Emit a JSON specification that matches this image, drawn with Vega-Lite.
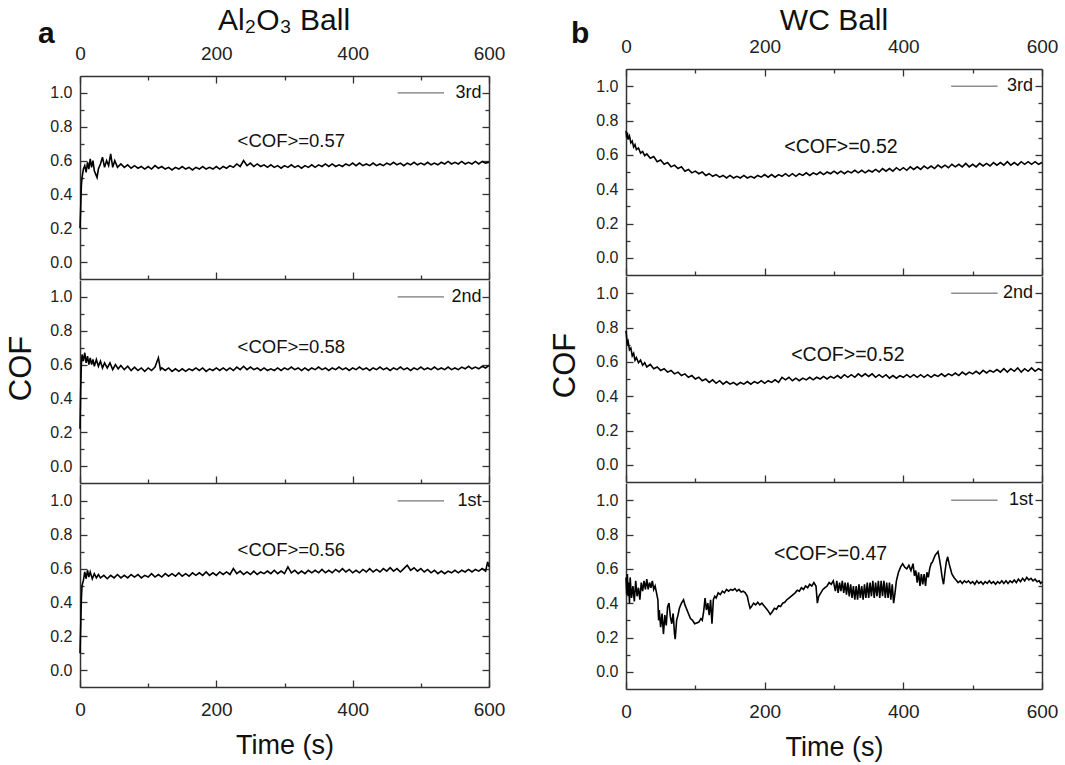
{
"$schema":"https://vega.github.io/schema/vega-lite/v6.json",
"background":"white",
"datasets":{
"cof":[
{"s":"a3","t":0,"c":0.20},{"s":"a3","t":1,"c":0.32},{"s":"a3","t":2,"c":0.45},{"s":"a3","t":3,"c":0.50},{"s":"a3","t":5,"c":0.55},{"s":"a3","t":7,"c":0.57},{"s":"a3","t":9,"c":0.53},{"s":"a3","t":11,"c":0.59},{"s":"a3","t":13,"c":0.55},{"s":"a3","t":15,"c":0.61},{"s":"a3","t":17,"c":0.56},{"s":"a3","t":19,"c":0.60},{"s":"a3","t":21,"c":0.54},{"s":"a3","t":23,"c":0.52},{"s":"a3","t":25,"c":0.50},{"s":"a3","t":27,"c":0.55},{"s":"a3","t":30,"c":0.58},{"s":"a3","t":33,"c":0.62},{"s":"a3","t":36,"c":0.56},{"s":"a3","t":39,"c":0.60},{"s":"a3","t":42,"c":0.57},{"s":"a3","t":45,"c":0.64},{"s":"a3","t":48,"c":0.56},{"s":"a3","t":51,"c":0.60},{"s":"a3","t":55,"c":0.56},{"s":"a3","t":60,"c":0.58},{"s":"a3","t":65,"c":0.56},{"s":"a3","t":70,"c":0.575},{"s":"a3","t":75,"c":0.555},{"s":"a3","t":80,"c":0.57},{"s":"a3","t":85,"c":0.555},{"s":"a3","t":90,"c":0.565},{"s":"a3","t":95,"c":0.55},{"s":"a3","t":100,"c":0.565},{"s":"a3","t":105,"c":0.55},{"s":"a3","t":110,"c":0.57},{"s":"a3","t":115,"c":0.555},{"s":"a3","t":120,"c":0.565},{"s":"a3","t":125,"c":0.55},{"s":"a3","t":130,"c":0.56},{"s":"a3","t":135,"c":0.545},{"s":"a3","t":140,"c":0.56},{"s":"a3","t":145,"c":0.55},{"s":"a3","t":150,"c":0.565},{"s":"a3","t":155,"c":0.55},{"s":"a3","t":160,"c":0.56},{"s":"a3","t":165,"c":0.545},{"s":"a3","t":170,"c":0.56},{"s":"a3","t":175,"c":0.55},{"s":"a3","t":180,"c":0.565},{"s":"a3","t":185,"c":0.55},{"s":"a3","t":190,"c":0.56},{"s":"a3","t":195,"c":0.55},{"s":"a3","t":200,"c":0.565},{"s":"a3","t":205,"c":0.55},{"s":"a3","t":210,"c":0.565},{"s":"a3","t":215,"c":0.555},{"s":"a3","t":220,"c":0.57},{"s":"a3","t":225,"c":0.56},{"s":"a3","t":230,"c":0.58},{"s":"a3","t":235,"c":0.565},{"s":"a3","t":240,"c":0.60},{"s":"a3","t":245,"c":0.57},{"s":"a3","t":250,"c":0.585},{"s":"a3","t":255,"c":0.565},{"s":"a3","t":260,"c":0.58},{"s":"a3","t":265,"c":0.565},{"s":"a3","t":270,"c":0.575},{"s":"a3","t":275,"c":0.56},{"s":"a3","t":280,"c":0.575},{"s":"a3","t":285,"c":0.56},{"s":"a3","t":290,"c":0.57},{"s":"a3","t":295,"c":0.555},{"s":"a3","t":300,"c":0.57},{"s":"a3","t":305,"c":0.56},{"s":"a3","t":310,"c":0.575},{"s":"a3","t":315,"c":0.56},{"s":"a3","t":320,"c":0.57},{"s":"a3","t":325,"c":0.555},{"s":"a3","t":330,"c":0.57},{"s":"a3","t":335,"c":0.56},{"s":"a3","t":340,"c":0.575},{"s":"a3","t":345,"c":0.56},{"s":"a3","t":350,"c":0.575},{"s":"a3","t":355,"c":0.565},{"s":"a3","t":360,"c":0.58},{"s":"a3","t":365,"c":0.565},{"s":"a3","t":370,"c":0.58},{"s":"a3","t":375,"c":0.565},{"s":"a3","t":380,"c":0.575},{"s":"a3","t":385,"c":0.565},{"s":"a3","t":390,"c":0.58},{"s":"a3","t":395,"c":0.57},{"s":"a3","t":400,"c":0.585},{"s":"a3","t":405,"c":0.57},{"s":"a3","t":410,"c":0.585},{"s":"a3","t":415,"c":0.57},{"s":"a3","t":420,"c":0.58},{"s":"a3","t":425,"c":0.57},{"s":"a3","t":430,"c":0.585},{"s":"a3","t":435,"c":0.57},{"s":"a3","t":440,"c":0.58},{"s":"a3","t":445,"c":0.57},{"s":"a3","t":450,"c":0.585},{"s":"a3","t":455,"c":0.575},{"s":"a3","t":460,"c":0.59},{"s":"a3","t":465,"c":0.575},{"s":"a3","t":470,"c":0.585},{"s":"a3","t":475,"c":0.57},{"s":"a3","t":480,"c":0.585},{"s":"a3","t":485,"c":0.575},{"s":"a3","t":490,"c":0.59},{"s":"a3","t":495,"c":0.575},{"s":"a3","t":500,"c":0.585},{"s":"a3","t":505,"c":0.575},{"s":"a3","t":510,"c":0.59},{"s":"a3","t":515,"c":0.575},{"s":"a3","t":520,"c":0.585},{"s":"a3","t":525,"c":0.575},{"s":"a3","t":530,"c":0.59},{"s":"a3","t":535,"c":0.58},{"s":"a3","t":540,"c":0.595},{"s":"a3","t":545,"c":0.58},{"s":"a3","t":550,"c":0.59},{"s":"a3","t":555,"c":0.58},{"s":"a3","t":560,"c":0.595},{"s":"a3","t":565,"c":0.58},{"s":"a3","t":570,"c":0.59},{"s":"a3","t":575,"c":0.58},{"s":"a3","t":580,"c":0.595},{"s":"a3","t":585,"c":0.58},{"s":"a3","t":590,"c":0.595},{"s":"a3","t":595,"c":0.585},{"s":"a3","t":600,"c":0.59},
{"s":"a2","t":0,"c":0.22},{"s":"a2","t":1,"c":0.45},{"s":"a2","t":2,"c":0.60},{"s":"a2","t":3,"c":0.66},{"s":"a2","t":5,"c":0.62},{"s":"a2","t":7,"c":0.67},{"s":"a2","t":9,"c":0.61},{"s":"a2","t":11,"c":0.65},{"s":"a2","t":13,"c":0.60},{"s":"a2","t":15,"c":0.64},{"s":"a2","t":17,"c":0.60},{"s":"a2","t":19,"c":0.63},{"s":"a2","t":21,"c":0.59},{"s":"a2","t":24,"c":0.63},{"s":"a2","t":27,"c":0.59},{"s":"a2","t":30,"c":0.62},{"s":"a2","t":33,"c":0.58},{"s":"a2","t":36,"c":0.61},{"s":"a2","t":40,"c":0.58},{"s":"a2","t":44,"c":0.61},{"s":"a2","t":48,"c":0.57},{"s":"a2","t":52,"c":0.60},{"s":"a2","t":56,"c":0.575},{"s":"a2","t":60,"c":0.595},{"s":"a2","t":65,"c":0.57},{"s":"a2","t":70,"c":0.59},{"s":"a2","t":75,"c":0.565},{"s":"a2","t":80,"c":0.585},{"s":"a2","t":85,"c":0.565},{"s":"a2","t":90,"c":0.58},{"s":"a2","t":95,"c":0.56},{"s":"a2","t":100,"c":0.58},{"s":"a2","t":105,"c":0.565},{"s":"a2","t":110,"c":0.585},{"s":"a2","t":115,"c":0.64},{"s":"a2","t":118,"c":0.57},{"s":"a2","t":120,"c":0.58},{"s":"a2","t":125,"c":0.565},{"s":"a2","t":130,"c":0.58},{"s":"a2","t":135,"c":0.56},{"s":"a2","t":140,"c":0.575},{"s":"a2","t":145,"c":0.56},{"s":"a2","t":150,"c":0.575},{"s":"a2","t":155,"c":0.56},{"s":"a2","t":160,"c":0.575},{"s":"a2","t":165,"c":0.565},{"s":"a2","t":170,"c":0.58},{"s":"a2","t":175,"c":0.565},{"s":"a2","t":180,"c":0.58},{"s":"a2","t":185,"c":0.56},{"s":"a2","t":190,"c":0.575},{"s":"a2","t":195,"c":0.565},{"s":"a2","t":200,"c":0.58},{"s":"a2","t":205,"c":0.565},{"s":"a2","t":210,"c":0.58},{"s":"a2","t":215,"c":0.565},{"s":"a2","t":220,"c":0.58},{"s":"a2","t":225,"c":0.565},{"s":"a2","t":230,"c":0.585},{"s":"a2","t":235,"c":0.57},{"s":"a2","t":240,"c":0.59},{"s":"a2","t":245,"c":0.57},{"s":"a2","t":250,"c":0.585},{"s":"a2","t":255,"c":0.57},{"s":"a2","t":260,"c":0.58},{"s":"a2","t":265,"c":0.565},{"s":"a2","t":270,"c":0.58},{"s":"a2","t":275,"c":0.565},{"s":"a2","t":280,"c":0.575},{"s":"a2","t":285,"c":0.565},{"s":"a2","t":290,"c":0.58},{"s":"a2","t":295,"c":0.565},{"s":"a2","t":300,"c":0.58},{"s":"a2","t":305,"c":0.57},{"s":"a2","t":310,"c":0.585},{"s":"a2","t":315,"c":0.57},{"s":"a2","t":320,"c":0.58},{"s":"a2","t":325,"c":0.565},{"s":"a2","t":330,"c":0.58},{"s":"a2","t":335,"c":0.565},{"s":"a2","t":340,"c":0.58},{"s":"a2","t":345,"c":0.57},{"s":"a2","t":350,"c":0.585},{"s":"a2","t":355,"c":0.57},{"s":"a2","t":360,"c":0.58},{"s":"a2","t":365,"c":0.565},{"s":"a2","t":370,"c":0.58},{"s":"a2","t":375,"c":0.57},{"s":"a2","t":380,"c":0.585},{"s":"a2","t":385,"c":0.57},{"s":"a2","t":390,"c":0.58},{"s":"a2","t":395,"c":0.565},{"s":"a2","t":400,"c":0.58},{"s":"a2","t":405,"c":0.57},{"s":"a2","t":410,"c":0.585},{"s":"a2","t":415,"c":0.57},{"s":"a2","t":420,"c":0.58},{"s":"a2","t":425,"c":0.565},{"s":"a2","t":430,"c":0.58},{"s":"a2","t":435,"c":0.57},{"s":"a2","t":440,"c":0.585},{"s":"a2","t":445,"c":0.57},{"s":"a2","t":450,"c":0.58},{"s":"a2","t":455,"c":0.565},{"s":"a2","t":460,"c":0.58},{"s":"a2","t":465,"c":0.57},{"s":"a2","t":470,"c":0.585},{"s":"a2","t":475,"c":0.57},{"s":"a2","t":480,"c":0.58},{"s":"a2","t":485,"c":0.565},{"s":"a2","t":490,"c":0.58},{"s":"a2","t":495,"c":0.57},{"s":"a2","t":500,"c":0.585},{"s":"a2","t":505,"c":0.57},{"s":"a2","t":510,"c":0.58},{"s":"a2","t":515,"c":0.57},{"s":"a2","t":520,"c":0.585},{"s":"a2","t":525,"c":0.57},{"s":"a2","t":530,"c":0.58},{"s":"a2","t":535,"c":0.57},{"s":"a2","t":540,"c":0.585},{"s":"a2","t":545,"c":0.57},{"s":"a2","t":550,"c":0.58},{"s":"a2","t":555,"c":0.57},{"s":"a2","t":560,"c":0.585},{"s":"a2","t":565,"c":0.575},{"s":"a2","t":570,"c":0.59},{"s":"a2","t":575,"c":0.575},{"s":"a2","t":580,"c":0.585},{"s":"a2","t":585,"c":0.575},{"s":"a2","t":590,"c":0.59},{"s":"a2","t":595,"c":0.58},{"s":"a2","t":600,"c":0.595},
{"s":"a1","t":0,"c":0.10},{"s":"a1","t":1,"c":0.25},{"s":"a1","t":2,"c":0.42},{"s":"a1","t":3,"c":0.50},{"s":"a1","t":5,"c":0.53},{"s":"a1","t":7,"c":0.58},{"s":"a1","t":9,"c":0.54},{"s":"a1","t":11,"c":0.59},{"s":"a1","t":13,"c":0.55},{"s":"a1","t":15,"c":0.58},{"s":"a1","t":18,"c":0.54},{"s":"a1","t":21,"c":0.57},{"s":"a1","t":24,"c":0.545},{"s":"a1","t":27,"c":0.565},{"s":"a1","t":30,"c":0.545},{"s":"a1","t":35,"c":0.56},{"s":"a1","t":40,"c":0.54},{"s":"a1","t":45,"c":0.56},{"s":"a1","t":50,"c":0.545},{"s":"a1","t":55,"c":0.565},{"s":"a1","t":60,"c":0.545},{"s":"a1","t":65,"c":0.56},{"s":"a1","t":70,"c":0.545},{"s":"a1","t":75,"c":0.565},{"s":"a1","t":80,"c":0.55},{"s":"a1","t":85,"c":0.565},{"s":"a1","t":90,"c":0.545},{"s":"a1","t":95,"c":0.56},{"s":"a1","t":100,"c":0.55},{"s":"a1","t":105,"c":0.57},{"s":"a1","t":110,"c":0.55},{"s":"a1","t":115,"c":0.565},{"s":"a1","t":120,"c":0.55},{"s":"a1","t":125,"c":0.57},{"s":"a1","t":130,"c":0.555},{"s":"a1","t":135,"c":0.57},{"s":"a1","t":140,"c":0.555},{"s":"a1","t":145,"c":0.575},{"s":"a1","t":150,"c":0.555},{"s":"a1","t":155,"c":0.57},{"s":"a1","t":160,"c":0.555},{"s":"a1","t":165,"c":0.575},{"s":"a1","t":170,"c":0.56},{"s":"a1","t":175,"c":0.575},{"s":"a1","t":180,"c":0.56},{"s":"a1","t":185,"c":0.58},{"s":"a1","t":190,"c":0.56},{"s":"a1","t":195,"c":0.575},{"s":"a1","t":200,"c":0.56},{"s":"a1","t":205,"c":0.58},{"s":"a1","t":210,"c":0.565},{"s":"a1","t":215,"c":0.58},{"s":"a1","t":220,"c":0.565},{"s":"a1","t":225,"c":0.60},{"s":"a1","t":230,"c":0.57},{"s":"a1","t":235,"c":0.585},{"s":"a1","t":240,"c":0.565},{"s":"a1","t":245,"c":0.58},{"s":"a1","t":250,"c":0.565},{"s":"a1","t":255,"c":0.585},{"s":"a1","t":260,"c":0.565},{"s":"a1","t":265,"c":0.58},{"s":"a1","t":270,"c":0.57},{"s":"a1","t":275,"c":0.585},{"s":"a1","t":280,"c":0.57},{"s":"a1","t":285,"c":0.59},{"s":"a1","t":290,"c":0.57},{"s":"a1","t":295,"c":0.585},{"s":"a1","t":300,"c":0.57},{"s":"a1","t":305,"c":0.61},{"s":"a1","t":310,"c":0.575},{"s":"a1","t":315,"c":0.59},{"s":"a1","t":320,"c":0.57},{"s":"a1","t":325,"c":0.585},{"s":"a1","t":330,"c":0.57},{"s":"a1","t":335,"c":0.59},{"s":"a1","t":340,"c":0.575},{"s":"a1","t":345,"c":0.59},{"s":"a1","t":350,"c":0.575},{"s":"a1","t":355,"c":0.595},{"s":"a1","t":360,"c":0.575},{"s":"a1","t":365,"c":0.59},{"s":"a1","t":370,"c":0.575},{"s":"a1","t":375,"c":0.595},{"s":"a1","t":380,"c":0.58},{"s":"a1","t":385,"c":0.60},{"s":"a1","t":390,"c":0.58},{"s":"a1","t":395,"c":0.595},{"s":"a1","t":400,"c":0.575},{"s":"a1","t":405,"c":0.59},{"s":"a1","t":410,"c":0.575},{"s":"a1","t":415,"c":0.595},{"s":"a1","t":420,"c":0.58},{"s":"a1","t":425,"c":0.60},{"s":"a1","t":430,"c":0.58},{"s":"a1","t":435,"c":0.595},{"s":"a1","t":440,"c":0.58},{"s":"a1","t":445,"c":0.60},{"s":"a1","t":450,"c":0.585},{"s":"a1","t":455,"c":0.605},{"s":"a1","t":460,"c":0.585},{"s":"a1","t":465,"c":0.60},{"s":"a1","t":470,"c":0.58},{"s":"a1","t":475,"c":0.60},{"s":"a1","t":480,"c":0.62},{"s":"a1","t":485,"c":0.59},{"s":"a1","t":490,"c":0.605},{"s":"a1","t":495,"c":0.585},{"s":"a1","t":500,"c":0.60},{"s":"a1","t":505,"c":0.58},{"s":"a1","t":510,"c":0.595},{"s":"a1","t":515,"c":0.575},{"s":"a1","t":520,"c":0.59},{"s":"a1","t":525,"c":0.57},{"s":"a1","t":530,"c":0.585},{"s":"a1","t":535,"c":0.57},{"s":"a1","t":540,"c":0.585},{"s":"a1","t":545,"c":0.575},{"s":"a1","t":550,"c":0.59},{"s":"a1","t":555,"c":0.575},{"s":"a1","t":560,"c":0.59},{"s":"a1","t":565,"c":0.58},{"s":"a1","t":570,"c":0.595},{"s":"a1","t":575,"c":0.58},{"s":"a1","t":580,"c":0.595},{"s":"a1","t":585,"c":0.585},{"s":"a1","t":590,"c":0.60},{"s":"a1","t":595,"c":0.585},{"s":"a1","t":598,"c":0.64},{"s":"a1","t":600,"c":0.61},
{"s":"b3","t":0,"c":0.74},{"s":"b3","t":1,"c":0.70},{"s":"b3","t":2,"c":0.73},{"s":"b3","t":3,"c":0.69},{"s":"b3","t":5,"c":0.71},{"s":"b3","t":7,"c":0.67},{"s":"b3","t":9,"c":0.68},{"s":"b3","t":11,"c":0.645},{"s":"b3","t":13,"c":0.66},{"s":"b3","t":15,"c":0.63},{"s":"b3","t":18,"c":0.64},{"s":"b3","t":21,"c":0.61},{"s":"b3","t":24,"c":0.62},{"s":"b3","t":27,"c":0.595},{"s":"b3","t":30,"c":0.605},{"s":"b3","t":35,"c":0.58},{"s":"b3","t":40,"c":0.59},{"s":"b3","t":45,"c":0.56},{"s":"b3","t":50,"c":0.57},{"s":"b3","t":55,"c":0.545},{"s":"b3","t":60,"c":0.555},{"s":"b3","t":65,"c":0.53},{"s":"b3","t":70,"c":0.54},{"s":"b3","t":75,"c":0.52},{"s":"b3","t":80,"c":0.53},{"s":"b3","t":85,"c":0.505},{"s":"b3","t":90,"c":0.515},{"s":"b3","t":95,"c":0.495},{"s":"b3","t":100,"c":0.505},{"s":"b3","t":105,"c":0.49},{"s":"b3","t":110,"c":0.50},{"s":"b3","t":115,"c":0.48},{"s":"b3","t":120,"c":0.49},{"s":"b3","t":125,"c":0.475},{"s":"b3","t":130,"c":0.485},{"s":"b3","t":135,"c":0.47},{"s":"b3","t":140,"c":0.48},{"s":"b3","t":145,"c":0.465},{"s":"b3","t":150,"c":0.48},{"s":"b3","t":155,"c":0.465},{"s":"b3","t":160,"c":0.475},{"s":"b3","t":165,"c":0.465},{"s":"b3","t":170,"c":0.48},{"s":"b3","t":175,"c":0.465},{"s":"b3","t":180,"c":0.475},{"s":"b3","t":185,"c":0.465},{"s":"b3","t":190,"c":0.48},{"s":"b3","t":195,"c":0.47},{"s":"b3","t":200,"c":0.485},{"s":"b3","t":205,"c":0.47},{"s":"b3","t":210,"c":0.485},{"s":"b3","t":215,"c":0.47},{"s":"b3","t":220,"c":0.485},{"s":"b3","t":225,"c":0.475},{"s":"b3","t":230,"c":0.49},{"s":"b3","t":235,"c":0.475},{"s":"b3","t":240,"c":0.49},{"s":"b3","t":245,"c":0.475},{"s":"b3","t":250,"c":0.49},{"s":"b3","t":255,"c":0.48},{"s":"b3","t":260,"c":0.495},{"s":"b3","t":265,"c":0.48},{"s":"b3","t":270,"c":0.495},{"s":"b3","t":275,"c":0.485},{"s":"b3","t":280,"c":0.50},{"s":"b3","t":285,"c":0.485},{"s":"b3","t":290,"c":0.50},{"s":"b3","t":295,"c":0.49},{"s":"b3","t":300,"c":0.505},{"s":"b3","t":305,"c":0.49},{"s":"b3","t":310,"c":0.505},{"s":"b3","t":315,"c":0.49},{"s":"b3","t":320,"c":0.505},{"s":"b3","t":325,"c":0.495},{"s":"b3","t":330,"c":0.51},{"s":"b3","t":335,"c":0.495},{"s":"b3","t":340,"c":0.51},{"s":"b3","t":345,"c":0.495},{"s":"b3","t":350,"c":0.51},{"s":"b3","t":355,"c":0.50},{"s":"b3","t":360,"c":0.515},{"s":"b3","t":365,"c":0.50},{"s":"b3","t":370,"c":0.52},{"s":"b3","t":375,"c":0.505},{"s":"b3","t":380,"c":0.52},{"s":"b3","t":385,"c":0.505},{"s":"b3","t":390,"c":0.525},{"s":"b3","t":395,"c":0.51},{"s":"b3","t":400,"c":0.525},{"s":"b3","t":405,"c":0.51},{"s":"b3","t":410,"c":0.53},{"s":"b3","t":415,"c":0.515},{"s":"b3","t":420,"c":0.53},{"s":"b3","t":425,"c":0.515},{"s":"b3","t":430,"c":0.535},{"s":"b3","t":435,"c":0.52},{"s":"b3","t":440,"c":0.535},{"s":"b3","t":445,"c":0.52},{"s":"b3","t":450,"c":0.54},{"s":"b3","t":455,"c":0.525},{"s":"b3","t":460,"c":0.54},{"s":"b3","t":465,"c":0.525},{"s":"b3","t":470,"c":0.545},{"s":"b3","t":475,"c":0.53},{"s":"b3","t":480,"c":0.545},{"s":"b3","t":485,"c":0.53},{"s":"b3","t":490,"c":0.55},{"s":"b3","t":495,"c":0.53},{"s":"b3","t":500,"c":0.545},{"s":"b3","t":505,"c":0.53},{"s":"b3","t":510,"c":0.55},{"s":"b3","t":515,"c":0.535},{"s":"b3","t":520,"c":0.55},{"s":"b3","t":525,"c":0.535},{"s":"b3","t":530,"c":0.555},{"s":"b3","t":535,"c":0.54},{"s":"b3","t":540,"c":0.555},{"s":"b3","t":545,"c":0.54},{"s":"b3","t":550,"c":0.56},{"s":"b3","t":555,"c":0.54},{"s":"b3","t":560,"c":0.555},{"s":"b3","t":565,"c":0.54},{"s":"b3","t":570,"c":0.56},{"s":"b3","t":575,"c":0.545},{"s":"b3","t":580,"c":0.56},{"s":"b3","t":585,"c":0.545},{"s":"b3","t":590,"c":0.56},{"s":"b3","t":595,"c":0.545},{"s":"b3","t":600,"c":0.555},
{"s":"b2","t":0,"c":0.78},{"s":"b2","t":1,"c":0.74},{"s":"b2","t":2,"c":0.71},{"s":"b2","t":3,"c":0.72},{"s":"b2","t":5,"c":0.67},{"s":"b2","t":7,"c":0.68},{"s":"b2","t":9,"c":0.635},{"s":"b2","t":11,"c":0.65},{"s":"b2","t":13,"c":0.61},{"s":"b2","t":15,"c":0.625},{"s":"b2","t":18,"c":0.595},{"s":"b2","t":21,"c":0.61},{"s":"b2","t":24,"c":0.58},{"s":"b2","t":27,"c":0.595},{"s":"b2","t":30,"c":0.57},{"s":"b2","t":35,"c":0.585},{"s":"b2","t":40,"c":0.56},{"s":"b2","t":45,"c":0.57},{"s":"b2","t":50,"c":0.55},{"s":"b2","t":55,"c":0.56},{"s":"b2","t":60,"c":0.54},{"s":"b2","t":65,"c":0.55},{"s":"b2","t":70,"c":0.53},{"s":"b2","t":75,"c":0.54},{"s":"b2","t":80,"c":0.52},{"s":"b2","t":85,"c":0.53},{"s":"b2","t":90,"c":0.51},{"s":"b2","t":95,"c":0.52},{"s":"b2","t":100,"c":0.50},{"s":"b2","t":105,"c":0.51},{"s":"b2","t":110,"c":0.49},{"s":"b2","t":115,"c":0.50},{"s":"b2","t":120,"c":0.48},{"s":"b2","t":125,"c":0.495},{"s":"b2","t":130,"c":0.475},{"s":"b2","t":135,"c":0.49},{"s":"b2","t":140,"c":0.47},{"s":"b2","t":145,"c":0.485},{"s":"b2","t":150,"c":0.47},{"s":"b2","t":155,"c":0.48},{"s":"b2","t":160,"c":0.465},{"s":"b2","t":165,"c":0.48},{"s":"b2","t":170,"c":0.47},{"s":"b2","t":175,"c":0.485},{"s":"b2","t":180,"c":0.47},{"s":"b2","t":185,"c":0.485},{"s":"b2","t":190,"c":0.475},{"s":"b2","t":195,"c":0.49},{"s":"b2","t":200,"c":0.475},{"s":"b2","t":205,"c":0.49},{"s":"b2","t":210,"c":0.48},{"s":"b2","t":215,"c":0.495},{"s":"b2","t":220,"c":0.48},{"s":"b2","t":225,"c":0.51},{"s":"b2","t":230,"c":0.495},{"s":"b2","t":235,"c":0.51},{"s":"b2","t":240,"c":0.49},{"s":"b2","t":245,"c":0.505},{"s":"b2","t":250,"c":0.49},{"s":"b2","t":255,"c":0.505},{"s":"b2","t":260,"c":0.495},{"s":"b2","t":265,"c":0.51},{"s":"b2","t":270,"c":0.495},{"s":"b2","t":275,"c":0.51},{"s":"b2","t":280,"c":0.50},{"s":"b2","t":285,"c":0.515},{"s":"b2","t":290,"c":0.50},{"s":"b2","t":295,"c":0.515},{"s":"b2","t":300,"c":0.505},{"s":"b2","t":305,"c":0.52},{"s":"b2","t":310,"c":0.505},{"s":"b2","t":315,"c":0.525},{"s":"b2","t":320,"c":0.51},{"s":"b2","t":325,"c":0.525},{"s":"b2","t":330,"c":0.51},{"s":"b2","t":335,"c":0.53},{"s":"b2","t":340,"c":0.515},{"s":"b2","t":345,"c":0.53},{"s":"b2","t":350,"c":0.515},{"s":"b2","t":355,"c":0.53},{"s":"b2","t":360,"c":0.51},{"s":"b2","t":365,"c":0.525},{"s":"b2","t":370,"c":0.51},{"s":"b2","t":375,"c":0.525},{"s":"b2","t":380,"c":0.505},{"s":"b2","t":385,"c":0.52},{"s":"b2","t":390,"c":0.505},{"s":"b2","t":395,"c":0.52},{"s":"b2","t":400,"c":0.51},{"s":"b2","t":405,"c":0.525},{"s":"b2","t":410,"c":0.51},{"s":"b2","t":415,"c":0.525},{"s":"b2","t":420,"c":0.51},{"s":"b2","t":425,"c":0.525},{"s":"b2","t":430,"c":0.51},{"s":"b2","t":435,"c":0.525},{"s":"b2","t":440,"c":0.51},{"s":"b2","t":445,"c":0.525},{"s":"b2","t":450,"c":0.515},{"s":"b2","t":455,"c":0.53},{"s":"b2","t":460,"c":0.515},{"s":"b2","t":465,"c":0.53},{"s":"b2","t":470,"c":0.52},{"s":"b2","t":475,"c":0.535},{"s":"b2","t":480,"c":0.52},{"s":"b2","t":485,"c":0.54},{"s":"b2","t":490,"c":0.525},{"s":"b2","t":495,"c":0.54},{"s":"b2","t":500,"c":0.53},{"s":"b2","t":505,"c":0.545},{"s":"b2","t":510,"c":0.53},{"s":"b2","t":515,"c":0.55},{"s":"b2","t":520,"c":0.535},{"s":"b2","t":525,"c":0.55},{"s":"b2","t":530,"c":0.54},{"s":"b2","t":535,"c":0.555},{"s":"b2","t":540,"c":0.54},{"s":"b2","t":545,"c":0.56},{"s":"b2","t":550,"c":0.54},{"s":"b2","t":555,"c":0.56},{"s":"b2","t":560,"c":0.545},{"s":"b2","t":565,"c":0.565},{"s":"b2","t":570,"c":0.54},{"s":"b2","t":575,"c":0.56},{"s":"b2","t":580,"c":0.545},{"s":"b2","t":585,"c":0.565},{"s":"b2","t":590,"c":0.545},{"s":"b2","t":595,"c":0.56},{"s":"b2","t":600,"c":0.55},
{"s":"b1","t":0,"c":0.55},{"s":"b1","t":1,"c":0.45},{"s":"b1","t":2,"c":0.57},{"s":"b1","t":3,"c":0.44},{"s":"b1","t":4,"c":0.52},{"s":"b1","t":5,"c":0.40},{"s":"b1","t":6,"c":0.55},{"s":"b1","t":8,"c":0.43},{"s":"b1","t":10,"c":0.50},{"s":"b1","t":12,"c":0.41},{"s":"b1","t":14,"c":0.53},{"s":"b1","t":16,"c":0.44},{"s":"b1","t":18,"c":0.49},{"s":"b1","t":20,"c":0.42},{"s":"b1","t":22,"c":0.52},{"s":"b1","t":24,"c":0.47},{"s":"b1","t":26,"c":0.53},{"s":"b1","t":28,"c":0.48},{"s":"b1","t":30,"c":0.54},{"s":"b1","t":32,"c":0.48},{"s":"b1","t":34,"c":0.52},{"s":"b1","t":36,"c":0.49},{"s":"b1","t":38,"c":0.53},{"s":"b1","t":40,"c":0.48},{"s":"b1","t":42,"c":0.50},{"s":"b1","t":44,"c":0.46},{"s":"b1","t":46,"c":0.42},{"s":"b1","t":47,"c":0.30},{"s":"b1","t":48,"c":0.36},{"s":"b1","t":50,"c":0.26},{"s":"b1","t":52,"c":0.34},{"s":"b1","t":54,"c":0.22},{"s":"b1","t":56,"c":0.33},{"s":"b1","t":58,"c":0.27},{"s":"b1","t":60,"c":0.38},{"s":"b1","t":62,"c":0.40},{"s":"b1","t":64,"c":0.32},{"s":"b1","t":66,"c":0.28},{"s":"b1","t":68,"c":0.34},{"s":"b1","t":70,"c":0.22},{"s":"b1","t":71,"c":0.19},{"s":"b1","t":73,"c":0.30},{"s":"b1","t":75,"c":0.33},{"s":"b1","t":77,"c":0.37},{"s":"b1","t":80,"c":0.40},{"s":"b1","t":83,"c":0.42},{"s":"b1","t":85,"c":0.39},{"s":"b1","t":88,"c":0.36},{"s":"b1","t":90,"c":0.34},{"s":"b1","t":93,"c":0.31},{"s":"b1","t":96,"c":0.30},{"s":"b1","t":99,"c":0.28},{"s":"b1","t":102,"c":0.285},{"s":"b1","t":105,"c":0.29},{"s":"b1","t":108,"c":0.31},{"s":"b1","t":110,"c":0.30},{"s":"b1","t":112,"c":0.35},{"s":"b1","t":114,"c":0.43},{"s":"b1","t":116,"c":0.36},{"s":"b1","t":118,"c":0.40},{"s":"b1","t":120,"c":0.33},{"s":"b1","t":122,"c":0.42},{"s":"b1","t":124,"c":0.28},{"s":"b1","t":126,"c":0.42},{"s":"b1","t":128,"c":0.44},{"s":"b1","t":130,"c":0.43},{"s":"b1","t":133,"c":0.46},{"s":"b1","t":136,"c":0.45},{"s":"b1","t":139,"c":0.47},{"s":"b1","t":142,"c":0.46},{"s":"b1","t":145,"c":0.48},{"s":"b1","t":148,"c":0.47},{"s":"b1","t":151,"c":0.48},{"s":"b1","t":154,"c":0.475},{"s":"b1","t":157,"c":0.485},{"s":"b1","t":160,"c":0.47},{"s":"b1","t":163,"c":0.48},{"s":"b1","t":166,"c":0.465},{"s":"b1","t":169,"c":0.47},{"s":"b1","t":172,"c":0.46},{"s":"b1","t":175,"c":0.44},{"s":"b1","t":177,"c":0.40},{"s":"b1","t":179,"c":0.37},{"s":"b1","t":181,"c":0.38},{"s":"b1","t":184,"c":0.40},{"s":"b1","t":187,"c":0.39},{"s":"b1","t":190,"c":0.405},{"s":"b1","t":193,"c":0.39},{"s":"b1","t":196,"c":0.40},{"s":"b1","t":199,"c":0.385},{"s":"b1","t":202,"c":0.37},{"s":"b1","t":205,"c":0.355},{"s":"b1","t":208,"c":0.335},{"s":"b1","t":211,"c":0.35},{"s":"b1","t":214,"c":0.37},{"s":"b1","t":217,"c":0.365},{"s":"b1","t":220,"c":0.385},{"s":"b1","t":223,"c":0.38},{"s":"b1","t":226,"c":0.40},{"s":"b1","t":229,"c":0.405},{"s":"b1","t":232,"c":0.42},{"s":"b1","t":235,"c":0.43},{"s":"b1","t":238,"c":0.44},{"s":"b1","t":241,"c":0.45},{"s":"b1","t":244,"c":0.46},{"s":"b1","t":247,"c":0.475},{"s":"b1","t":250,"c":0.47},{"s":"b1","t":253,"c":0.49},{"s":"b1","t":256,"c":0.48},{"s":"b1","t":259,"c":0.50},{"s":"b1","t":262,"c":0.49},{"s":"b1","t":265,"c":0.51},{"s":"b1","t":268,"c":0.50},{"s":"b1","t":271,"c":0.52},{"s":"b1","t":274,"c":0.50},{"s":"b1","t":276,"c":0.40},{"s":"b1","t":278,"c":0.44},{"s":"b1","t":281,"c":0.46},{"s":"b1","t":284,"c":0.48},{"s":"b1","t":287,"c":0.49},{"s":"b1","t":290,"c":0.50},{"s":"b1","t":293,"c":0.52},{"s":"b1","t":296,"c":0.51},{"s":"b1","t":299,"c":0.53},{"s":"b1","t":302,"c":0.47},{"s":"b1","t":304,"c":0.53},{"s":"b1","t":306,"c":0.46},{"s":"b1","t":308,"c":0.52},{"s":"b1","t":310,"c":0.47},{"s":"b1","t":312,"c":0.53},{"s":"b1","t":314,"c":0.46},{"s":"b1","t":316,"c":0.52},{"s":"b1","t":318,"c":0.45},{"s":"b1","t":320,"c":0.52},{"s":"b1","t":322,"c":0.44},{"s":"b1","t":324,"c":0.51},{"s":"b1","t":326,"c":0.43},{"s":"b1","t":328,"c":0.50},{"s":"b1","t":330,"c":0.42},{"s":"b1","t":332,"c":0.50},{"s":"b1","t":334,"c":0.42},{"s":"b1","t":336,"c":0.51},{"s":"b1","t":338,"c":0.43},{"s":"b1","t":340,"c":0.50},{"s":"b1","t":342,"c":0.42},{"s":"b1","t":344,"c":0.51},{"s":"b1","t":346,"c":0.43},{"s":"b1","t":348,"c":0.52},{"s":"b1","t":350,"c":0.43},{"s":"b1","t":352,"c":0.52},{"s":"b1","t":354,"c":0.44},{"s":"b1","t":356,"c":0.53},{"s":"b1","t":358,"c":0.43},{"s":"b1","t":360,"c":0.52},{"s":"b1","t":362,"c":0.44},{"s":"b1","t":364,"c":0.53},{"s":"b1","t":366,"c":0.43},{"s":"b1","t":368,"c":0.53},{"s":"b1","t":370,"c":0.44},{"s":"b1","t":372,"c":0.53},{"s":"b1","t":374,"c":0.43},{"s":"b1","t":376,"c":0.52},{"s":"b1","t":378,"c":0.43},{"s":"b1","t":380,"c":0.52},{"s":"b1","t":382,"c":0.42},{"s":"b1","t":384,"c":0.51},{"s":"b1","t":386,"c":0.40},{"s":"b1","t":388,"c":0.46},{"s":"b1","t":390,"c":0.53},{"s":"b1","t":393,"c":0.58},{"s":"b1","t":396,"c":0.61},{"s":"b1","t":399,"c":0.63},{"s":"b1","t":402,"c":0.61},{"s":"b1","t":405,"c":0.60},{"s":"b1","t":408,"c":0.62},{"s":"b1","t":411,"c":0.59},{"s":"b1","t":414,"c":0.63},{"s":"b1","t":416,"c":0.56},{"s":"b1","t":418,"c":0.59},{"s":"b1","t":420,"c":0.52},{"s":"b1","t":422,"c":0.58},{"s":"b1","t":424,"c":0.50},{"s":"b1","t":426,"c":0.57},{"s":"b1","t":428,"c":0.51},{"s":"b1","t":430,"c":0.57},{"s":"b1","t":432,"c":0.50},{"s":"b1","t":434,"c":0.58},{"s":"b1","t":436,"c":0.55},{"s":"b1","t":438,"c":0.60},{"s":"b1","t":440,"c":0.63},{"s":"b1","t":442,"c":0.64},{"s":"b1","t":444,"c":0.66},{"s":"b1","t":446,"c":0.68},{"s":"b1","t":448,"c":0.69},{"s":"b1","t":450,"c":0.70},{"s":"b1","t":452,"c":0.66},{"s":"b1","t":454,"c":0.61},{"s":"b1","t":456,"c":0.55},{"s":"b1","t":458,"c":0.51},{"s":"b1","t":460,"c":0.58},{"s":"b1","t":462,"c":0.64},{"s":"b1","t":464,"c":0.67},{"s":"b1","t":466,"c":0.63},{"s":"b1","t":468,"c":0.60},{"s":"b1","t":470,"c":0.57},{"s":"b1","t":473,"c":0.55},{"s":"b1","t":476,"c":0.535},{"s":"b1","t":479,"c":0.52},{"s":"b1","t":482,"c":0.53},{"s":"b1","t":485,"c":0.515},{"s":"b1","t":488,"c":0.53},{"s":"b1","t":491,"c":0.52},{"s":"b1","t":494,"c":0.53},{"s":"b1","t":497,"c":0.515},{"s":"b1","t":500,"c":0.525},{"s":"b1","t":503,"c":0.51},{"s":"b1","t":506,"c":0.53},{"s":"b1","t":509,"c":0.515},{"s":"b1","t":512,"c":0.525},{"s":"b1","t":515,"c":0.51},{"s":"b1","t":518,"c":0.525},{"s":"b1","t":521,"c":0.515},{"s":"b1","t":524,"c":0.53},{"s":"b1","t":527,"c":0.515},{"s":"b1","t":530,"c":0.525},{"s":"b1","t":533,"c":0.51},{"s":"b1","t":536,"c":0.525},{"s":"b1","t":539,"c":0.515},{"s":"b1","t":542,"c":0.53},{"s":"b1","t":545,"c":0.515},{"s":"b1","t":548,"c":0.53},{"s":"b1","t":551,"c":0.515},{"s":"b1","t":554,"c":0.53},{"s":"b1","t":557,"c":0.52},{"s":"b1","t":560,"c":0.535},{"s":"b1","t":563,"c":0.52},{"s":"b1","t":566,"c":0.54},{"s":"b1","t":569,"c":0.525},{"s":"b1","t":572,"c":0.545},{"s":"b1","t":575,"c":0.53},{"s":"b1","t":578,"c":0.55},{"s":"b1","t":581,"c":0.535},{"s":"b1","t":584,"c":0.545},{"s":"b1","t":587,"c":0.53},{"s":"b1","t":590,"c":0.54},{"s":"b1","t":593,"c":0.525},{"s":"b1","t":596,"c":0.53},{"s":"b1","t":598,"c":0.515},{"s":"b1","t":600,"c":0.525}
]
},
"data":{"name":"cof"},
"spacing":44,
"hconcat":[
{"title":{"text":"Al₂O₃ Ball","fontSize":30,"offset":-17,"anchor":"middle","frame":"group","dx":204},"spacing":-17,
"vconcat":[
{"width":409,"height":1,"data":{"values":[{}]},"mark":{"type":"text"},"encoding":{"text":{"value":""}},
"title":{"text":"a","anchor":"start","frame":"group","fontSize":30,"fontWeight":"bold","dx":-42,"offset":-2}},
{"spacing":-6,"vconcat":[
{"width":409,"height":203,
"resolve":{"scale":{"x":"independent","y":"independent"},"axis":{"x":"independent","y":"independent"}},
"layer":[
{"transform":[{"filter":"datum.s === 'a3'"}],"mark":{"type":"line","color":"#000","strokeWidth":1.6},
"encoding":{"x":{"field":"t","type":"quantitative","scale":{"domain":[0,600],"nice":false,"zero":false},"axis":{"orient":"bottom","values":[0,100,200,300,400,500,600],"labels":false,"title":null,"tickSize":{"condition":{"test":"datum.value % 200 === 0","value":-7},"value":-4}}},
"y":{"field":"c","type":"quantitative","scale":{"domain":[-0.1,1.1],"nice":false,"zero":false},"axis":{"orient":"left","values":[0,0.1,0.2,0.3,0.4,0.5,0.6,0.7,0.8,0.9,1.0],"format":".1f","labelExpr":"round(datum.value*10) % 2 === 0 ? datum.label : ''","labelFontSize":16,"labelPadding":15,"title":null,"tickSize":{"condition":{"test":"round(datum.value*10) % 2 === 0","value":-7},"value":-4}}}}},
{"data":{"values":[{}]},"mark":{"type":"rule","color":"#555","strokeWidth":1},
"encoding":{"x":{"datum":466,"type":"quantitative","scale":{"domain":[0,600],"nice":false,"zero":false},"axis":{"orient":"top","values":[0,100,200,300,400,500,600],"labelExpr":"datum.value % 200 === 0 ? datum.label : ''","labelFontSize":19,"labelPadding":20,"title":null,"tickSize":{"condition":{"test":"datum.value % 200 === 0","value":-7},"value":-4}}},"x2":{"datum":534},
"y":{"datum":1.0,"type":"quantitative","scale":{"domain":[-0.1,1.1],"nice":false,"zero":false},"axis":{"orient":"right","values":[0,0.1,0.2,0.3,0.4,0.5,0.6,0.7,0.8,0.9,1.0],"labels":false,"title":null,"tickSize":{"condition":{"test":"round(datum.value*10) % 2 === 0","value":-7},"value":-4}}}}},
{"data":{"values":[{}]},"mark":{"type":"text","align":"right","baseline":"middle","fontSize":18,"font":"Liberation Sans","color":"#111"},
"encoding":{"x":{"datum":589,"type":"quantitative","scale":{"domain":[0,600],"nice":false,"zero":false},"axis":null},"y":{"datum":1.0,"type":"quantitative","scale":{"domain":[-0.1,1.1],"nice":false,"zero":false},"axis":null},"text":{"value":"3rd"}}},
{"data":{"values":[{}]},"mark":{"type":"text","align":"center","baseline":"middle","fontSize":18.5,"font":"Liberation Sans","color":"#111"},
"encoding":{"x":{"datum":310,"type":"quantitative","scale":{"domain":[0,600],"nice":false,"zero":false},"axis":null},"y":{"datum":0.718,"type":"quantitative","scale":{"domain":[-0.1,1.1],"nice":false,"zero":false},"axis":null},"text":{"value":"<COF>=0.57"}}}
]},
{"width":409,"height":203,
"resolve":{"scale":{"x":"independent","y":"independent"},"axis":{"x":"independent","y":"independent"}},
"layer":[
{"transform":[{"filter":"datum.s === 'a2'"}],"mark":{"type":"line","color":"#000","strokeWidth":1.6},
"encoding":{"x":{"field":"t","type":"quantitative","scale":{"domain":[0,600],"nice":false,"zero":false},"axis":{"orient":"bottom","values":[0,100,200,300,400,500,600],"labels":false,"title":null,"tickSize":{"condition":{"test":"datum.value % 200 === 0","value":-7},"value":-4}}},
"y":{"field":"c","type":"quantitative","scale":{"domain":[-0.1,1.1],"nice":false,"zero":false},"axis":{"orient":"left","values":[0,0.1,0.2,0.3,0.4,0.5,0.6,0.7,0.8,0.9,1.0],"format":".1f","labelExpr":"round(datum.value*10) % 2 === 0 ? datum.label : ''","labelFontSize":16,"labelPadding":15,"title":"COF","titleFontSize":31,"titlePadding":12,"titleY":88,"tickSize":{"condition":{"test":"round(datum.value*10) % 2 === 0","value":-7},"value":-4}}}}},
{"data":{"values":[{}]},"mark":{"type":"rule","color":"#555","strokeWidth":1},
"encoding":{"x":{"datum":466,"type":"quantitative","scale":{"domain":[0,600],"nice":false,"zero":false},"axis":null},"x2":{"datum":534},
"y":{"datum":1.0,"type":"quantitative","scale":{"domain":[-0.1,1.1],"nice":false,"zero":false},"axis":{"orient":"right","values":[0,0.1,0.2,0.3,0.4,0.5,0.6,0.7,0.8,0.9,1.0],"labels":false,"title":null,"tickSize":{"condition":{"test":"round(datum.value*10) % 2 === 0","value":-7},"value":-4}}}}},
{"data":{"values":[{}]},"mark":{"type":"text","align":"right","baseline":"middle","fontSize":18,"font":"Liberation Sans","color":"#111"},
"encoding":{"x":{"datum":589,"type":"quantitative","scale":{"domain":[0,600],"nice":false,"zero":false},"axis":null},"y":{"datum":1.0,"type":"quantitative","scale":{"domain":[-0.1,1.1],"nice":false,"zero":false},"axis":null},"text":{"value":"2nd"}}},
{"data":{"values":[{}]},"mark":{"type":"text","align":"center","baseline":"middle","fontSize":18.5,"font":"Liberation Sans","color":"#111"},
"encoding":{"x":{"datum":310,"type":"quantitative","scale":{"domain":[0,600],"nice":false,"zero":false},"axis":null},"y":{"datum":0.706,"type":"quantitative","scale":{"domain":[-0.1,1.1],"nice":false,"zero":false},"axis":null},"text":{"value":"<COF>=0.58"}}}
]},
{"width":409,"height":203,
"resolve":{"scale":{"x":"independent","y":"independent"},"axis":{"x":"independent","y":"independent"}},
"layer":[
{"transform":[{"filter":"datum.s === 'a1'"}],"mark":{"type":"line","color":"#000","strokeWidth":1.6},
"encoding":{"x":{"field":"t","type":"quantitative","scale":{"domain":[0,600],"nice":false,"zero":false},"axis":{"orient":"bottom","values":[0,100,200,300,400,500,600],"labelExpr":"datum.value % 200 === 0 ? datum.label : ''","labelFontSize":19,"labelPadding":20,"title":"Time (s)","titleFontSize":27,"titlePadding":10,"tickSize":{"condition":{"test":"datum.value % 200 === 0","value":-7},"value":-4}}},
"y":{"field":"c","type":"quantitative","scale":{"domain":[-0.1,1.1],"nice":false,"zero":false},"axis":{"orient":"left","values":[0,0.1,0.2,0.3,0.4,0.5,0.6,0.7,0.8,0.9,1.0],"format":".1f","labelExpr":"round(datum.value*10) % 2 === 0 ? datum.label : ''","labelFontSize":16,"labelPadding":15,"title":null,"tickSize":{"condition":{"test":"round(datum.value*10) % 2 === 0","value":-7},"value":-4}}}}},
{"data":{"values":[{}]},"mark":{"type":"rule","color":"#555","strokeWidth":1},
"encoding":{"x":{"datum":466,"type":"quantitative","scale":{"domain":[0,600],"nice":false,"zero":false},"axis":null},"x2":{"datum":534},
"y":{"datum":1.0,"type":"quantitative","scale":{"domain":[-0.1,1.1],"nice":false,"zero":false},"axis":{"orient":"right","values":[0,0.1,0.2,0.3,0.4,0.5,0.6,0.7,0.8,0.9,1.0],"labels":false,"title":null,"tickSize":{"condition":{"test":"round(datum.value*10) % 2 === 0","value":-7},"value":-4}}}}},
{"data":{"values":[{}]},"mark":{"type":"text","align":"right","baseline":"middle","fontSize":18,"font":"Liberation Sans","color":"#111"},
"encoding":{"x":{"datum":589,"type":"quantitative","scale":{"domain":[0,600],"nice":false,"zero":false},"axis":null},"y":{"datum":1.0,"type":"quantitative","scale":{"domain":[-0.1,1.1],"nice":false,"zero":false},"axis":null},"text":{"value":"1st"}}},
{"data":{"values":[{}]},"mark":{"type":"text","align":"center","baseline":"middle","fontSize":18.5,"font":"Liberation Sans","color":"#111"},
"encoding":{"x":{"datum":310,"type":"quantitative","scale":{"domain":[0,600],"nice":false,"zero":false},"axis":null},"y":{"datum":0.71,"type":"quantitative","scale":{"domain":[-0.1,1.1],"nice":false,"zero":false},"axis":null},"text":{"value":"<COF>=0.56"}}}
]}
]}
]},
{"title":{"text":"WC Ball","fontSize":30,"offset":-17,"anchor":"middle","frame":"group","dx":208},"spacing":-24,
"vconcat":[
{"width":416,"height":1,"data":{"values":[{}]},"mark":{"type":"text"},"encoding":{"text":{"value":""}},
"title":{"text":"b","anchor":"start","frame":"group","fontSize":30,"fontWeight":"bold","dx":-55,"offset":-2}},
{"spacing":-6,"vconcat":[
{"width":416,"height":206,
"resolve":{"scale":{"x":"independent","y":"independent"},"axis":{"x":"independent","y":"independent"}},
"layer":[
{"transform":[{"filter":"datum.s === 'b3'"}],"mark":{"type":"line","color":"#000","strokeWidth":1.6},
"encoding":{"x":{"field":"t","type":"quantitative","scale":{"domain":[0,600],"nice":false,"zero":false},"axis":{"orient":"bottom","values":[0,100,200,300,400,500,600],"labels":false,"title":null,"tickSize":{"condition":{"test":"datum.value % 200 === 0","value":-7},"value":-4}}},
"y":{"field":"c","type":"quantitative","scale":{"domain":[-0.1,1.1],"nice":false,"zero":false},"axis":{"orient":"left","values":[0,0.1,0.2,0.3,0.4,0.5,0.6,0.7,0.8,0.9,1.0],"format":".1f","labelExpr":"round(datum.value*10) % 2 === 0 ? datum.label : ''","labelFontSize":16,"labelPadding":15,"title":null,"tickSize":{"condition":{"test":"round(datum.value*10) % 2 === 0","value":-7},"value":-4}}}}},
{"data":{"values":[{}]},"mark":{"type":"rule","color":"#555","strokeWidth":1},
"encoding":{"x":{"datum":469,"type":"quantitative","scale":{"domain":[0,600],"nice":false,"zero":false},"axis":{"orient":"top","values":[0,100,200,300,400,500,600],"labelExpr":"datum.value % 200 === 0 ? datum.label : ''","labelFontSize":19,"labelPadding":20,"title":null,"tickSize":{"condition":{"test":"datum.value % 200 === 0","value":-7},"value":-4}}},"x2":{"datum":536},
"y":{"datum":1.0,"type":"quantitative","scale":{"domain":[-0.1,1.1],"nice":false,"zero":false},"axis":{"orient":"right","values":[0,0.1,0.2,0.3,0.4,0.5,0.6,0.7,0.8,0.9,1.0],"labels":false,"title":null,"tickSize":{"condition":{"test":"round(datum.value*10) % 2 === 0","value":-7},"value":-4}}}}},
{"data":{"values":[{}]},"mark":{"type":"text","align":"right","baseline":"middle","fontSize":18,"font":"Liberation Sans","color":"#111"},
"encoding":{"x":{"datum":587,"type":"quantitative","scale":{"domain":[0,600],"nice":false,"zero":false},"axis":null},"y":{"datum":1.0,"type":"quantitative","scale":{"domain":[-0.1,1.1],"nice":false,"zero":false},"axis":null},"text":{"value":"3rd"}}},
{"data":{"values":[{}]},"mark":{"type":"text","align":"center","baseline":"middle","fontSize":19.5,"font":"Liberation Sans","color":"#111"},
"encoding":{"x":{"datum":310,"type":"quantitative","scale":{"domain":[0,600],"nice":false,"zero":false},"axis":null},"y":{"datum":0.643,"type":"quantitative","scale":{"domain":[-0.1,1.1],"nice":false,"zero":false},"axis":null},"text":{"value":"<COF>=0.52"}}}
]},
{"width":416,"height":206,
"resolve":{"scale":{"x":"independent","y":"independent"},"axis":{"x":"independent","y":"independent"}},
"layer":[
{"transform":[{"filter":"datum.s === 'b2'"}],"mark":{"type":"line","color":"#000","strokeWidth":1.6},
"encoding":{"x":{"field":"t","type":"quantitative","scale":{"domain":[0,600],"nice":false,"zero":false},"axis":{"orient":"bottom","values":[0,100,200,300,400,500,600],"labels":false,"title":null,"tickSize":{"condition":{"test":"datum.value % 200 === 0","value":-7},"value":-4}}},
"y":{"field":"c","type":"quantitative","scale":{"domain":[-0.1,1.1],"nice":false,"zero":false},"axis":{"orient":"left","values":[0,0.1,0.2,0.3,0.4,0.5,0.6,0.7,0.8,0.9,1.0],"format":".1f","labelExpr":"round(datum.value*10) % 2 === 0 ? datum.label : ''","labelFontSize":16,"labelPadding":15,"title":"COF","titleFontSize":31,"titlePadding":14,"titleY":89,"tickSize":{"condition":{"test":"round(datum.value*10) % 2 === 0","value":-7},"value":-4}}}}},
{"data":{"values":[{}]},"mark":{"type":"rule","color":"#555","strokeWidth":1},
"encoding":{"x":{"datum":469,"type":"quantitative","scale":{"domain":[0,600],"nice":false,"zero":false},"axis":null},"x2":{"datum":536},
"y":{"datum":1.0,"type":"quantitative","scale":{"domain":[-0.1,1.1],"nice":false,"zero":false},"axis":{"orient":"right","values":[0,0.1,0.2,0.3,0.4,0.5,0.6,0.7,0.8,0.9,1.0],"labels":false,"title":null,"tickSize":{"condition":{"test":"round(datum.value*10) % 2 === 0","value":-7},"value":-4}}}}},
{"data":{"values":[{}]},"mark":{"type":"text","align":"right","baseline":"middle","fontSize":18,"font":"Liberation Sans","color":"#111"},
"encoding":{"x":{"datum":587,"type":"quantitative","scale":{"domain":[0,600],"nice":false,"zero":false},"axis":null},"y":{"datum":1.0,"type":"quantitative","scale":{"domain":[-0.1,1.1],"nice":false,"zero":false},"axis":null},"text":{"value":"2nd"}}},
{"data":{"values":[{}]},"mark":{"type":"text","align":"center","baseline":"middle","fontSize":19.5,"font":"Liberation Sans","color":"#111"},
"encoding":{"x":{"datum":320,"type":"quantitative","scale":{"domain":[0,600],"nice":false,"zero":false},"axis":null},"y":{"datum":0.642,"type":"quantitative","scale":{"domain":[-0.1,1.1],"nice":false,"zero":false},"axis":null},"text":{"value":"<COF>=0.52"}}}
]},
{"width":416,"height":206,
"resolve":{"scale":{"x":"independent","y":"independent"},"axis":{"x":"independent","y":"independent"}},
"layer":[
{"transform":[{"filter":"datum.s === 'b1'"}],"mark":{"type":"line","color":"#000","strokeWidth":1.6},
"encoding":{"x":{"field":"t","type":"quantitative","scale":{"domain":[0,600],"nice":false,"zero":false},"axis":{"orient":"bottom","values":[0,100,200,300,400,500,600],"labelExpr":"datum.value % 200 === 0 ? datum.label : ''","labelFontSize":19,"labelPadding":20,"title":"Time (s)","titleFontSize":27,"titlePadding":10,"tickSize":{"condition":{"test":"datum.value % 200 === 0","value":-7},"value":-4}}},
"y":{"field":"c","type":"quantitative","scale":{"domain":[-0.1,1.1],"nice":false,"zero":false},"axis":{"orient":"left","values":[0,0.1,0.2,0.3,0.4,0.5,0.6,0.7,0.8,0.9,1.0],"format":".1f","labelExpr":"round(datum.value*10) % 2 === 0 ? datum.label : ''","labelFontSize":16,"labelPadding":15,"title":null,"tickSize":{"condition":{"test":"round(datum.value*10) % 2 === 0","value":-7},"value":-4}}}}},
{"data":{"values":[{}]},"mark":{"type":"rule","color":"#555","strokeWidth":1},
"encoding":{"x":{"datum":469,"type":"quantitative","scale":{"domain":[0,600],"nice":false,"zero":false},"axis":null},"x2":{"datum":536},
"y":{"datum":1.0,"type":"quantitative","scale":{"domain":[-0.1,1.1],"nice":false,"zero":false},"axis":{"orient":"right","values":[0,0.1,0.2,0.3,0.4,0.5,0.6,0.7,0.8,0.9,1.0],"labels":false,"title":null,"tickSize":{"condition":{"test":"round(datum.value*10) % 2 === 0","value":-7},"value":-4}}}}},
{"data":{"values":[{}]},"mark":{"type":"text","align":"right","baseline":"middle","fontSize":18,"font":"Liberation Sans","color":"#111"},
"encoding":{"x":{"datum":587,"type":"quantitative","scale":{"domain":[0,600],"nice":false,"zero":false},"axis":null},"y":{"datum":1.0,"type":"quantitative","scale":{"domain":[-0.1,1.1],"nice":false,"zero":false},"axis":null},"text":{"value":"1st"}}},
{"data":{"values":[{}]},"mark":{"type":"text","align":"center","baseline":"middle","fontSize":19.5,"font":"Liberation Sans","color":"#111"},
"encoding":{"x":{"datum":295,"type":"quantitative","scale":{"domain":[0,600],"nice":false,"zero":false},"axis":null},"y":{"datum":0.688,"type":"quantitative","scale":{"domain":[-0.1,1.1],"nice":false,"zero":false},"axis":null},"text":{"value":"<COF>=0.47"}}}
]}
]}
]}
],
"config":{
"view":{"stroke":null},
"axis":{"domain":true,"domainColor":"#333","domainWidth":1.5,"grid":false,"labelFont":"Liberation Sans","titleFont":"Liberation Sans","labelColor":"#222","titleColor":"#111","titleFontWeight":"normal","tickColor":"#333","tickWidth":1.3,"labelFlush":false,"labelOverlap":false,"labelBound":false},
"title":{"font":"Liberation Sans","fontWeight":"normal","color":"#111"}
}
}
